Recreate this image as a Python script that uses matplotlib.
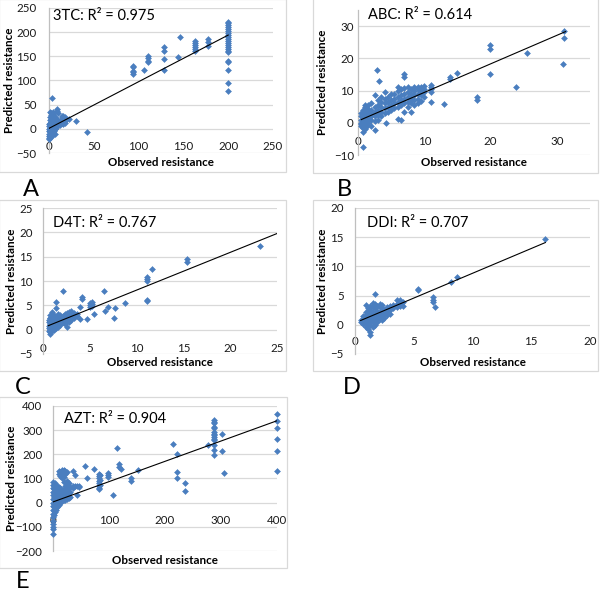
import matplotlib
matplotlib.use("Agg")
import matplotlib.pyplot as plt
from matplotlib.patches import Rectangle
import numpy as np

plt.rcParams['font.family'] = ['Lato', 'DejaVu Sans']

W, H = 600, 592

# ---- data (observed, predicted) ----
x_3tc = [0.3, 0.3, 0.3, 0.3, 0.3, 0.3, 0.3, 0.3,
         1, 1, 1, 1, 1, 1, 1, 1, 1, 1,
         2, 2, 2, 2, 2, 2, 2, 2, 2,
         3, 3, 3, 3, 3, 3, 3, 3,
         4, 4, 4, 4, 4, 4, 4, 4,
         5, 5, 5, 5, 5, 5, 5,
         6, 6, 6, 6, 6, 6,
         7, 7, 7, 7, 7, 7,
         8, 8, 8, 8, 9, 9, 9, 9, 10, 10, 10, 12, 12,
         15, 15, 15, 15, 15, 16, 16, 16, 16, 16, 18, 18, 18, 18,
         22, 30, 42,
         94, 94, 94, 94, 94, 106, 111, 111, 111, 111,
         128, 128, 128, 128, 144, 146,
         163, 163, 163, 163, 163, 163, 177, 177, 177,
         200, 200, 200, 200, 200, 200, 200, 200, 200, 200, 200, 200,
         200, 200, 200, 200, 200, 200, 200, 200, 200, 200]
y_3tc = [-20, -15, -10, -5, 0, 5, 10, -22,
         -18, -12, -6, -2, 2, 6, 12, 18, 25, 35,
         -14, -8, -3, 3, 8, 14, 20, 28, 33,
         -10, -4, 2, 7, 12, 18, 24, 63,
         -12, -6, 0, 5, 10, 16, 22, 30,
         -8, -2, 4, 9, 15, 20, 34,
         -5, 3, 8, 13, 19, 26,
         -10, 0, 6, 12, 17, 24,
         2, 8, 14, 20, 5, 12, 37, 40, 10, 18, 33, 8, 14,
         12, 16, 20, 24, 27, 10, 14, 18, 22, 26, 12, 17, 22, 25,
         20, 16, -6,
         130, 127, 120, 117, 114, 122, 151, 146, 141, 138,
         170, 160, 145, 121, 148, 189,
         182, 177, 173, 170, 165, 160, 185, 180, 172,
         222, 218, 214, 210, 206, 202, 198, 194, 190, 186, 182, 178,
         174, 170, 166, 162, 158, 141, 139, 121, 95, 78]

x_abc = [0.5, 0.5, 0.5, 0.5, 0.5, 0.5,
         0.7, 0.7, 0.7, 0.7, 0.7, 0.7,
         1, 1, 1, 1, 1, 1, 1,
         1.3, 1.3, 1.3, 1.3, 1.3,
         1.5, 1.5, 1.5, 1.5, 1.5,
         2, 2, 2, 2, 2, 2,
         2.5, 2.5, 2.5, 2.5, 2.5, 2.5,
         2.9, 3.2,
         3, 3, 3, 3, 3,
         3.5, 3.5, 3.5, 3.5, 3.5,
         4, 4, 4, 4, 4, 4.2,
         4.5, 4.5, 4.5, 4.5,
         5, 5, 5, 5,
         5.5, 5.5, 5.5, 5.5,
         6, 6, 6, 6, 6, 6,
         6.5, 6.5, 6.5, 6.5, 6.5,
         7, 7, 7, 7, 7, 7, 7,
         7.5, 7.5, 7.5, 7.5, 7.5,
         8, 8, 8, 8, 8,
         8.5, 8.5, 8.5, 8.5, 8.5,
         9, 9, 9, 9, 9,
         9.5, 9.5, 9.5, 9.5,
         10, 10, 10, 10,
         11, 11, 11, 11, 11,
         12.9, 13.9, 13.9, 15, 17.9, 17.9, 19.9, 19.9, 19.9,
         23.8, 25.5, 31.1, 31.1, 30.9]
y_abc = [-1, 0, 1, 2, 3, -0.5,
         -7.6, -3, -1.5, 0.5, 2.5, 4,
         -2, -0.5, 1, 2, 3.5, 5, 5.5,
         -1, 0.5, 1.5, 3, 4.5,
         0, 1, 2.5, 4, 5.5,
         -1, 1, 2, 3, 4, 6,
         -2.2, 0.5, 2, 3.5, 5, 8.5,
         16.3, 13,
         1, 2.5, 4, 5.5, 7,
         2, 3.5, 5, 6.5, 8,
         3, 4.5, 6, 7.5, 9.5, -0.2,
         3.5, 5, 6.5, 8,
         4, 5.5, 7, 9,
         4.5, 6, 7.5, 9,
         1.2, 5, 6.5, 8, 10, 11.2,
         1, 5.5, 7, 8.5, 10.5,
         3.5, 6, 7.5, 9, 10.8, 14.2, 15,
         5, 6.5, 8, 9.5, 11,
         3.3, 6, 7.5, 9, 10.5,
         5.5, 7, 8.5, 10, 11,
         6, 7.5, 9, 10.5, 11.2,
         6.8, 8.5, 10, 11,
         8, 9.5, 10.5, 11.5,
         6.5, 9.5, 10.5, 11.2, 11.8,
         5.9, 14.2, 13.5, 15.3, 8, 7, 24.2, 22.8, 15,
         11.1, 21.6, 28.5, 26.4, 18.1]

x_d4t = [0.6, 0.6, 0.6, 0.6, 0.6,
         0.7, 0.7, 0.7, 0.7, 0.7, 0.7,
         0.8, 0.8, 0.8, 0.8, 0.8, 0.8, 0.8,
         1, 1, 1, 1, 1, 1, 1,
         1.2, 1.2, 1.2, 1.2, 1.2, 1.2,
         1.4, 1.4, 1.4, 1.4, 1.4, 1.4,
         1.6, 1.6, 1.6, 1.6, 1.6,
         1.8, 1.8, 1.8, 1.8,
         2.1, 2.1, 2.1, 2.1,
         2.3, 2.3, 2.3, 2.3,
         2.6, 2.6, 2.6, 2.6, 2.6,
         2.8, 2.8, 2.8, 2.8,
         3.0, 3.0, 3.0, 3.0,
         3.3, 3.3, 3.3, 3.6, 3.6,
         3.9, 4.0, 4.2, 4.2, 4.7,
         5.0, 5.0, 5.0, 5.2, 5.2, 5.2, 5.4,
         6.5, 6.6, 6.9, 7.6, 7.7, 8.8,
         11.1, 11.1, 11.1, 11.1, 11.1, 11.6,
         15.4, 15.4, 23.2]
y_d4t = [-0.3, 0.3, 0.8, 1.5, 2,
         -0.8, 0, 0.5, 1, 1.8, 2.3,
         -0.5, 0.2, 0.7, 1.2, 1.6, 2.5, 3,
         -0.2, 0.5, 1, 1.5, 2, 3.3, 3.6,
         0, 0.8, 1.4, 2, 2.6, 3,
         0.3, 1, 1.8, 2.4, 5.7, 4.5,
         0.5, 1.2, 2, 2.8, 3.2,
         1, 1.6, 2.2, 3,
         7.9, 1.5, 2.2, 2.8,
         1.2, 2, 2.6, 3.2,
         0.6, 1.8, 2.5, 3, 3.5,
         1.5, 2.3, 3, 3.6,
         2, 2.8, 3.4, 3.8,
         2.5, 3, 3.5, 2.8, 3.2,
         2.1, 4.6, 6.8, 6.3, 2.1,
         4.6, 5, 5.4, 4.8, 5.3, 5.6, 3.3,
         7.9, 3.8, 4.7, 2.3, 4.5, 5.5,
         10.8, 10.4, 9.9, 6.1, 5.8, 12.4,
         14.6, 13.9, 17.2]

x_ddi = [0.5, 0.5,
         0.7, 0.7, 0.7, 0.7,
         0.9, 0.9, 0.9, 0.9, 0.9, 0.9,
         1.1, 1.1, 1.1, 1.1, 1.1, 1.1,
         1.3, 1.3, 1.3, 1.3, 1.3, 1.3, 1.3, 1.3,
         1.5, 1.5, 1.5, 1.5, 1.5, 1.5, 1.5,
         1.7, 1.7, 1.7, 1.7, 1.7, 1.7, 1.7,
         1.9, 1.9, 1.9, 1.9, 1.9,
         2.1, 2.1, 2.1, 2.1, 2.1,
         2.3, 2.3, 2.3, 2.3, 2.3,
         2.5, 2.5, 2.5, 2.7, 2.7, 2.7,
         3.0, 3.0, 3.0, 3.2, 3.2,
         3.6, 3.6, 3.6, 3.8, 3.8, 3.8, 4.1, 4.1,
         5.4, 5.4, 6.6, 6.6, 6.6, 6.8, 8.2, 8.7, 16.2]
y_ddi = [0.5, 0.8,
         0.2, 0.6, 1, 1.5,
         -0.3, 0.4, 1, 1.6, 2.2, 3.4,
         -0.8, 0.2, 0.8, 1.4, 2, 2.8,
         -1.2, -1.7, 0, 0.6, 1.2, 1.8, 2.5, 3.2,
         -0.4, 0.4, 1, 1.6, 2.2, 3, 3.8,
         5.2, 0, 0.8, 1.4, 2, 2.8, 3.5,
         0.5, 1.2, 1.8, 2.4, 3.2,
         1, 1.6, 2.2, 3, 3.6,
         0.8, 1.5, 2, 2.8, 3.4,
         1.2, 2, 2.6, 1.6, 2.4, 3,
         1.8, 2.6, 3.2, 2.8, 3.4,
         3, 3.6, 4.2, 3.2, 3.8, 4.3, 3.3, 3.9,
         6.2, 5.9, 4.8, 4.3, 3.9, 3.1, 7.4, 8.1, 14.7]

x_azt = [0, 0, 0, 0, 0, 0, 0, 0, 0, 0, 0, 0, 0, 0, 0, 0,
         1, 1, 1, 1, 1, 1, 1, 1, 1,
         3, 3, 3, 3, 3, 3, 3, 3, 3,
         5, 5, 5, 5, 5, 5, 5, 5,
         8, 8, 8, 8, 8, 8, 8,
         10, 10, 10, 10, 10, 10, 10, 10,
         13, 13, 13, 13, 13, 13, 13,
         16, 16, 16, 16, 16, 16, 16, 16,
         19, 19, 19, 19, 19, 19, 19,
         22, 22, 22, 22, 22, 22,
         25, 25, 25, 25, 25, 25,
         28, 28, 28, 28, 30, 30, 30,
         36, 36, 36, 39, 39, 43, 43, 47, 47,
         58, 61, 73,
         82, 82, 82, 82, 82, 82, 82, 82, 84, 84, 84,
         99, 99, 99, 108,
         115, 118, 118, 121, 140, 140, 152,
         215, 222, 222, 222, 236, 236, 277,
         288, 288, 288, 288, 288, 288, 288, 288, 288, 288, 288, 288, 288, 288,
         301, 301, 305,
         400, 400, 400, 400, 400, 400]
y_azt = [-130, -110, -100, -90, -75, -60, -45, -30, -15, 0, 15, 30, 45, 60, 75, 85,
         -50, -35, -20, -5, 10, 25, 40, 55, 70,
         -40, -25, -10, 5, 20, 35, 50, 65, 80,
         -30, -15, 0, 15, 30, 45, 60, 75,
         -20, -5, 10, 25, 40, 55, 70,
         -10, 5, 20, 35, 50, 65, 120, 130,
         0, 15, 30, 45, 60, 110, 125,
         5, 20, 35, 50, 100, 115, 130, 135,
         10, 25, 40, 55, 85, 105, 135,
         10, 30, 50, 70, 120, 132,
         15, 35, 55, 75, 90, 125,
         20, 40, 60, 80, 25, 45, 65,
         133, 62, 70, 114, 68, 33, 68, 70, 65,
         150, 101, 140,
         120, 110, 100, 90, 80, 70, 60, 55, 115, 95, 75,
         122, 114, 105, 32,
         226, 162, 146, 140, 103, 88, 137,
         242, 203, 128, 100, 82, 48, 240,
         342, 335, 328, 314, 307, 293, 286, 279, 272, 265, 258, 238, 217, 196,
         286, 212, 122,
         365, 337, 307, 265, 212, 133]

# linear trend lines as they appear on the reference: slope, intercept, x range
trend_3tc = (0.965, 1.0, 0.3, 200)
trend_abc = (0.886, 0.56, 0.5, 31.3)
trend_d4t = (0.775, 0.38, 0.57, 25)
trend_ddi = (0.849, 0.33, 0.48, 16.2)
trend_azt = (0.84, 3.0, 0.0, 400)

titles = ['3TC: R\u00b2 = 0.975', 'ABC: R\u00b2 = 0.614', 'D4T: R\u00b2 = 0.767',
          'DDI: R\u00b2 = 0.707', 'AZT: R\u00b2 = 0.904']
letters = ['A', 'B', 'C', 'D', 'E']

POINT_C = '#4a7ebf'
GRID_C = '#d9d9d9'
AXIS_C = '#bfbfbf'

fig = plt.figure(figsize=(W / 100, H / 100), dpi=100)


def px_axes(left, top, right, bottom):
    return fig.add_axes([left / W, 1 - bottom / H,
                         (right - left) / W, (bottom - top) / H])


def px_text(x, y, s, **kw):
    fig.text(x / W, 1 - y / H, s, **kw)


def chart_box(left, top, right, bottom):
    fig.patches.append(Rectangle((left / W, 1 - bottom / H),
                                 (right - left) / W, (bottom - top) / H,
                                 transform=fig.transFigure, fill=False,
                                 edgecolor=GRID_C, linewidth=0.9))


panels = [
    # data, trend, plot box, xlim, ylim, xstep, ystep, ypad, xpad, chart box, title pos, letter pos, ylabel x, xlabel y
    (x_3tc, y_3tc, trend_3tc, (49, 8, 273, 153), (0, 250), (-50, 250), 50, 50,
     9.0, 9.0, (-1, -1, 286, 172), (53, 16), (31, 190), 10, 163),
    (x_abc, y_abc, trend_abc, (358, 10, 590, 155), (0, 35), (-10, 35), 10, 10,
     3.0, 9.6, (313, -1, 598, 173), (368, 15), (344, 190), 323, 163),
    (x_d4t, y_d4t, trend_d4t, (43, 208, 277, 354), (0, 25), (-5, 25), 5, 5,
     7.6, 9.6, (-1, 200, 286, 371), (53, 223), (23, 387), 12, 363),
    (x_ddi, y_ddi, trend_ddi, (355, 208, 590, 354), (0, 20), (-5, 20), 5, 5,
     8.2, 8.2, (313, 200, 598, 371), (367, 223), (352, 387), 323, 363),
    (x_azt, y_azt, trend_azt, (53, 406, 277, 551), (0, 400), (-200, 400), 100, 100,
     7.6, 9.0, (-1, 397, 287, 568), (64, 419), (23, 581), 12, 560),
]

for i, (xs, ys, trend, box, xlim, ylim, xstep, ystep, ypad, xpad,
        cbox, tpos, lpos, ylab_x, xlab_y) in enumerate(panels):
    chart_box(*cbox)
    ax = px_axes(*box)
    ax.set_xlim(*xlim)
    ax.set_ylim(*ylim)
    ax.set_xticks(np.arange(xlim[0], xlim[1] + 0.01, xstep))
    ax.set_yticks(np.arange(ylim[0], ylim[1] + 0.01, ystep))
    ax.yaxis.grid(True, color=GRID_C, linewidth=0.9)
    ax.set_axisbelow(True)
    for side in ['top', 'right', 'bottom']:
        ax.spines[side].set_visible(False)
    ax.spines['bottom'].set_position(('data', 0))
    ax.spines['left'].set_color(AXIS_C)
    ax.spines['left'].set_linewidth(0.9)
    ax.tick_params(axis='both', length=0, labelsize=8.3, colors='#1a1a1a')
    ax.tick_params(axis='y', pad=ypad)
    ax.tick_params(axis='x', pad=xpad)

    ax.scatter(xs, ys, marker='D', s=9, color=POINT_C, edgecolors=POINT_C,
               linewidths=0.4, zorder=3, clip_on=False)

    slope, icpt, x0, x1 = trend
    tx = np.array([x0, x1])
    ax.plot(tx, np.polyval([slope, icpt], tx), color='black', linewidth=0.8,
            zorder=4)

    px_text(tpos[0], tpos[1], titles[i], fontsize=10.5, ha='left', va='center')
    px_text(lpos[0], lpos[1], letters[i], fontsize=17, ha='center',
            va='center')
    cx = (box[0] + box[2]) / 2
    cy = (box[1] + box[3]) / 2
    px_text(ylab_x, cy, 'Predicted resistance', fontsize=8.4,
            fontweight='bold', rotation=90, ha='center', va='center')
    px_text(cx, xlab_y, 'Observed resistance', fontsize=8.4,
            fontweight='bold', ha='center', va='center')

fig.savefig('out.png', dpi=100)
